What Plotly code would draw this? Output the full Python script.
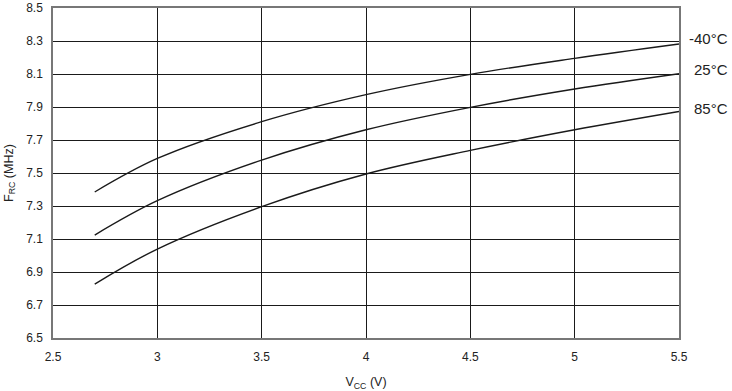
import plotly.graph_objects as go

vcc = [2.7, 3.0, 3.5, 4.0, 4.5, 5.0, 5.5]
f_m40 = [7.385, 7.588, 7.811, 7.975, 8.098, 8.195, 8.282]
f_25 = [7.124, 7.332, 7.578, 7.762, 7.898, 8.009, 8.102]
f_85 = [6.827, 7.039, 7.296, 7.494, 7.637, 7.762, 7.873]
series_names = ["-40°C", "25°C", "85°C"]
label_y = [8.318, 8.13, 7.888]

x_ticks = [2.5, 3, 3.5, 4, 4.5, 5, 5.5]
y_ticks = [6.5, 6.7, 6.9, 7.1, 7.3, 7.5, 7.7, 7.9, 8.1, 8.3, 8.5]

fig = go.Figure()
for name, ys in zip(series_names, [f_m40, f_25, f_85]):
    fig.add_trace(go.Scatter(x=vcc, y=ys, mode="lines", name=name,
                             line=dict(color="#1a1a1a", width=1.4, shape="spline", smoothing=1),
                             showlegend=False))

for name, ly in zip(series_names, label_y):
    fig.add_annotation(x=1, xref="paper", xshift=51, y=ly, yref="y", text=name,
                       showarrow=False, xanchor="right",
                       font=dict(family="Liberation Sans, Arial", size=15, color="#222"))

fig.update_layout(
    template="none",
    width=732, height=391,
    margin=dict(l=52.5, r=53, t=8, b=53, autoexpand=False),
    paper_bgcolor="white", plot_bgcolor="white",
    font=dict(family="Liberation Sans, Arial", size=12, color="#222"),
)
fig.update_xaxes(range=[2.5, 5.5], tickvals=x_ticks, ticktext=[str(v) for v in x_ticks],
                 showgrid=True, gridcolor="#1a1a1a", gridwidth=1, automargin=False,
                 showline=True, linecolor="#777", linewidth=1.5, mirror=True,
                 ticks="", zeroline=False, ticklabelstandoff=7,
                 title=dict(text="V<sub>CC</sub> (V)", standoff=14, font=dict(size=12.5)))
fig.update_yaxes(range=[6.5, 8.5], tickvals=y_ticks, ticktext=[f"{v:.1f}" for v in y_ticks],
                 showgrid=True, gridcolor="#1a1a1a", gridwidth=1, automargin=False,
                 showline=True, linecolor="#777", linewidth=1.5, mirror=True,
                 ticks="", zeroline=False, ticklabelstandoff=6,
                 title=dict(text="F<sub>RC</sub> (MHz)", standoff=10, font=dict(size=12.5)))

fig.write_html("out.html", config={"displayModeBar": False},
               post_script="document.body.style.margin='0';")
